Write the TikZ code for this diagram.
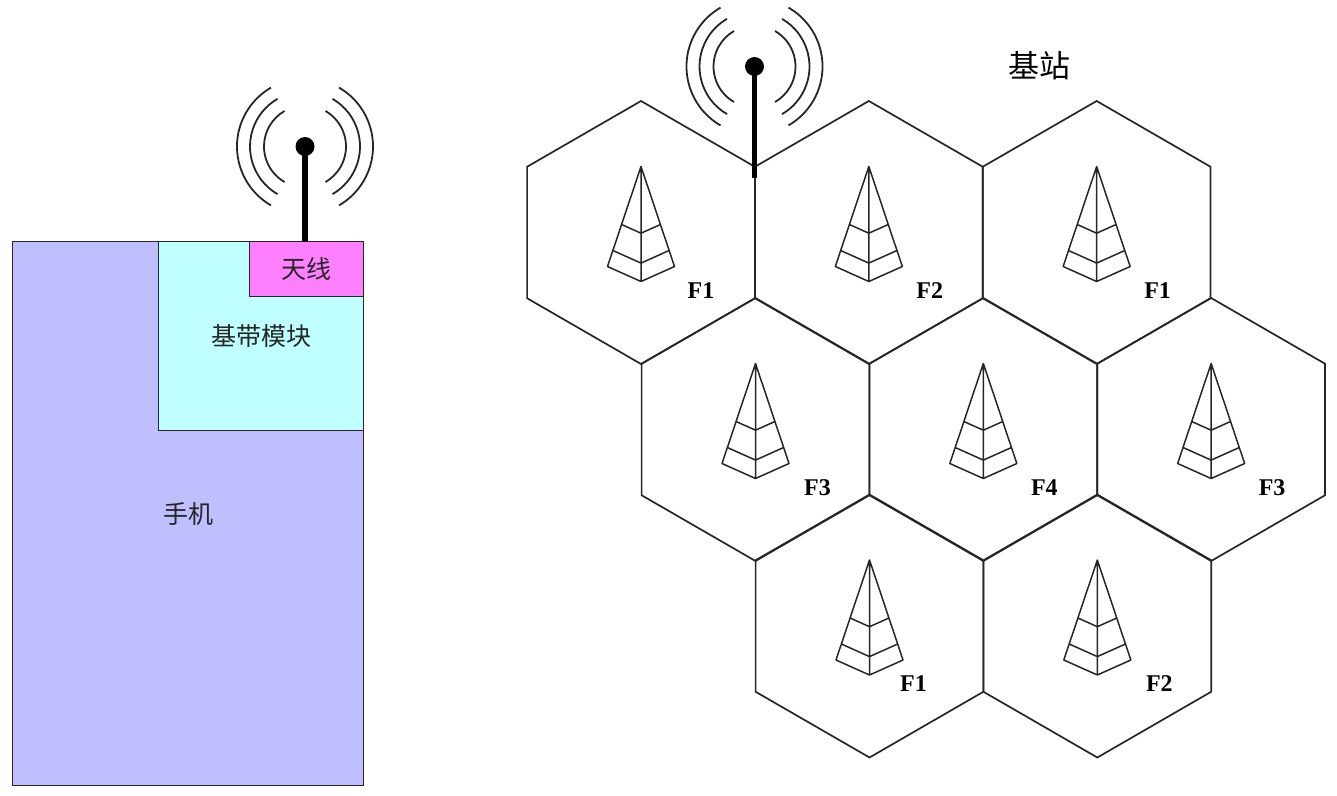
\documentclass[tikz,border=0pt]{standalone}
\usepackage{fontspec}
\usepackage{tikz}
\usetikzlibrary{positioning,calc,shapes.geometric}
\newfontfamily\cjk{Noto Sans CJK SC}
\newfontfamily\flfont{Liberation Serif}
\definecolor{phonecol}{RGB}{191,191,255}
\definecolor{bandcol}{RGB}{191,255,255}
\definecolor{antcol}{RGB}{255,128,255}
\tikzset{
  cell_hex/.style = {regular polygon, regular polygon sides=6,
    shape border rotate=30, draw=black!85, line width=1.7pt,
    minimum size=263pt, inner sep=0pt, outer sep=0pt},
  cell_lbl/.style = {font=\flfont\bfseries\fontsize{24}{24}\selectfont,
    inner sep=0pt},
  blk/.style = {draw=black!85, line width=1.9pt, inner sep=0pt,
    outer sep=0pt, font=\cjk\fontsize{25}{25}\selectfont, text=black!85},% boites du telephone
  blk_dot/.style = {circle, fill=black, inner sep=0pt, minimum size=19pt},
  mast/.style = {line width=5.5pt, black},
  wave/.style = {line width=1.8pt, black!85},
  tw/.style = {line width=1.5pt, black!85, line join=round},
  pics/waves/.style = {code={
    \draw[wave] (120:41) arc (120:240:41) (120:55) arc (120:240:55)
      (120:68) arc (120:240:68);
    \draw[wave] (-60:41) arc (-60:60:41) (-60:55) arc (-60:60:55)
      (-60:68) arc (-60:60:68);
  }},
  pics/tower/.style = {code={
    \coordinate (-a) at (0,-66);
    \coordinate (-l) at (-33.5,34);
    \coordinate (-r) at (33.5,34);
    \coordinate (-b) at (0,49);
    \draw[tw] (-a) -- (-l) -- (-b) -- (-r) -- cycle (-a) -- (-b)
      ($(-a)!.58!(-l)$) -- ($(-a)!.58!(-b)$) -- ($(-a)!.58!(-r)$)
      ($(-a)!.84!(-l)$) -- ($(-a)!.84!(-b)$) -- ($(-a)!.84!(-r)$);
  }}
}
\begin{document}
\begin{tikzpicture}[x=1pt, y=-1pt]
\useasboundingbox (0,0) rectangle (1337,795);
% telephone
\node [blk, fill=phonecol, minimum width=351pt, minimum height=544pt,
  anchor=north west] (phone) at (12.5,241.5) {手机};
\node [blk, fill=bandcol, minimum width=205pt, minimum height=189pt,
  anchor=north east] (band) at (phone.north east) {基带模块};
\node [blk, fill=antcol, minimum width=114pt, minimum height=55pt,
  anchor=north east] (aerial) at (band.north east) {天线};
\node [blk_dot] (pdot) at ($(aerial.north)+(-1.5,-95)$) {};
\draw [mast] (aerial.north -| pdot) -- (pdot.center);
\pic (pw) at (pdot) {waves};
% cellules
\node [cell_hex] (c11) at (641,232.5) {};
\node [cell_hex, right=0pt of c11] (c12) {};
\node [cell_hex, right=0pt of c12] (c13) {};
\node [cell_hex] (c21) at (755.5,429.5) {};
\node [cell_hex, right=0pt of c21] (c22) {};
\node [cell_hex, right=0pt of c22] (c23) {};
\node [cell_hex] (c31) at (869.5,626) {};
\node [cell_hex, right=0pt of c31] (c32) {};
\pic (t11) at (c11) {tower};
\pic (t12) at (c12) {tower};
\pic (t13) at (c13) {tower};
\pic (t21) at (c21) {tower};
\pic (t22) at (c22) {tower};
\pic (t23) at (c23) {tower};
\pic (t31) at (c31) {tower};
\pic (t32) at (c32) {tower};
\node [cell_lbl] (f11) at ($(c11)+(60,58)$) {F1};
\node [cell_lbl] (f12) at ($(c12)+(61,58)$) {F2};
\node [cell_lbl] (f13) at ($(c13)+(61,58)$) {F1};
\node [cell_lbl] (f21) at ($(c21)+(62,58)$) {F3};
\node [cell_lbl] (f22) at ($(c22)+(61,58)$) {F4};
\node [cell_lbl] (f23) at ($(c23)+(61,58)$) {F3};
\node [cell_lbl] (f31) at ($(c31)+(44,58)$) {F1};
\node [cell_lbl] (f32) at ($(c32)+(62,58)$) {F2};
% station de base
\node [font=\cjk\fontsize{31}{31}\selectfont] (bs) at (1039,66) {基站};
\node [blk_dot] (bdot) at (754.5,66.5) {};
\coordinate (bfoot) at (754.5,178);
\draw [mast] (bfoot) -- (bdot.center);
\pic (bw) at (bdot) {waves};
\end{tikzpicture}
\end{document}
